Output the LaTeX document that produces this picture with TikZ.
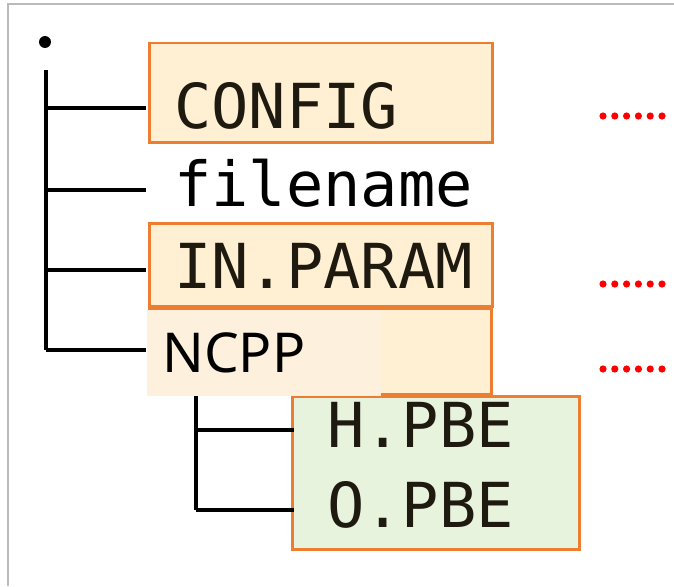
\documentclass[tikz,border=0pt]{standalone}
\usepackage{fontspec}
\newfontfamily\codefont{DejaVu Sans Mono}
\newfontfamily\ncppfont{Noto Sans}
\definecolor{boxorange}{HTML}{ED7D31}
\definecolor{boxfill}{HTML}{FFEFD3}
\definecolor{patchfill}{HTML}{FDF0DD}
\definecolor{greenfill}{HTML}{E7F3DC}
\definecolor{framegray}{HTML}{BBBBBB}
\definecolor{dotred}{HTML}{FF0000}
\definecolor{textdark}{HTML}{1E1A10}
\begin{document}
\begin{tikzpicture}[x=1pt,y=-1pt,
  obox/.style={draw=boxorange, line width=2.5pt, fill=boxfill, inner sep=0pt, anchor=north west},
  gbox/.style={draw=boxorange, line width=2.5pt, fill=greenfill, inner sep=0pt, anchor=north west},
  codetext/.style={anchor=base west, inner sep=0pt, text=textdark, font=\codefont\fontsize{62}{62}\selectfont},
  treeline/.style={line width=3.8pt, black},
  leaderdot/.style={fill=dotred, draw=none}]
\useasboundingbox (0,0) rectangle (674,586);
\fill[white] (0,0) rectangle (674,586);
% frame
\draw[framegray, line width=2pt] (8,586) -- (8,4) -- (674,4);
% boxes
\node[obox, minimum width=343pt, minimum height=99pt] (configbox) at (148,42) {};
\node[obox, minimum width=343pt, minimum height=83pt] (inbox) at (148,222) {};
\node[obox, minimum width=342pt, minimum height=86pt] (ncppbox) at (148,307) {};
\node[gbox, minimum width=287pt, minimum height=153pt] (pbebox) at (291,395) {};
\node[fill=patchfill, inner sep=0pt, anchor=north west, minimum width=234pt, minimum height=86pt] (patch) at (147,310) {};
% texts
\node[codetext] (config) at (174,128) {CONFIG};
\node[codetext, text=black] (filename) at (174,206) {filename};
\node[codetext] (inparam) at (174,288) {IN.PARAM};
\node[anchor=base west, inner sep=0pt, text=black, font=\ncppfont\fontsize{55}{55}\selectfont] (ncpp) at (162,372) {NCPP};
\node[codetext] (hpbe) at (327,447) {H.PBE};
\node[codetext] (opbe) at (327,527) {O.PBE};
% tree
\fill (45,42) circle (6pt);
\coordinate (trunktop) at (46,70);
\coordinate (b1) at (46,108);
\coordinate (b2) at (46,190);
\coordinate (b3) at (46,270);
\coordinate (b4) at (46,350);
\coordinate (e1) at (146,108);
\coordinate (e2) at (146,190);
\coordinate (e3) at (146,270);
\coordinate (e4) at (146,350);
\draw[treeline] (trunktop) -- (b4);
\draw[treeline] (b1) -- (e1);
\draw[treeline] (b2) -- (e2);
\draw[treeline] (b3) -- (e3);
\draw[treeline] (b4) -- (e4);
\coordinate (subtop) at (196,396);
\coordinate (s1) at (196,430);
\coordinate (s2) at (196,510);
\coordinate (f1) at (294,430);
\coordinate (f2) at (294,510);
\draw[treeline] (subtop) -- (s2);
\draw[treeline] (s1) -- (f1);
\draw[treeline] (s2) -- (f2);
% leader dots
\foreach \yy in {116,284,369}{
  \foreach \k in {0,...,5}{
    \fill[leaderdot] (603+11.8*\k,\yy) circle (3.6pt);
  }
}
\end{tikzpicture}
\end{document}
